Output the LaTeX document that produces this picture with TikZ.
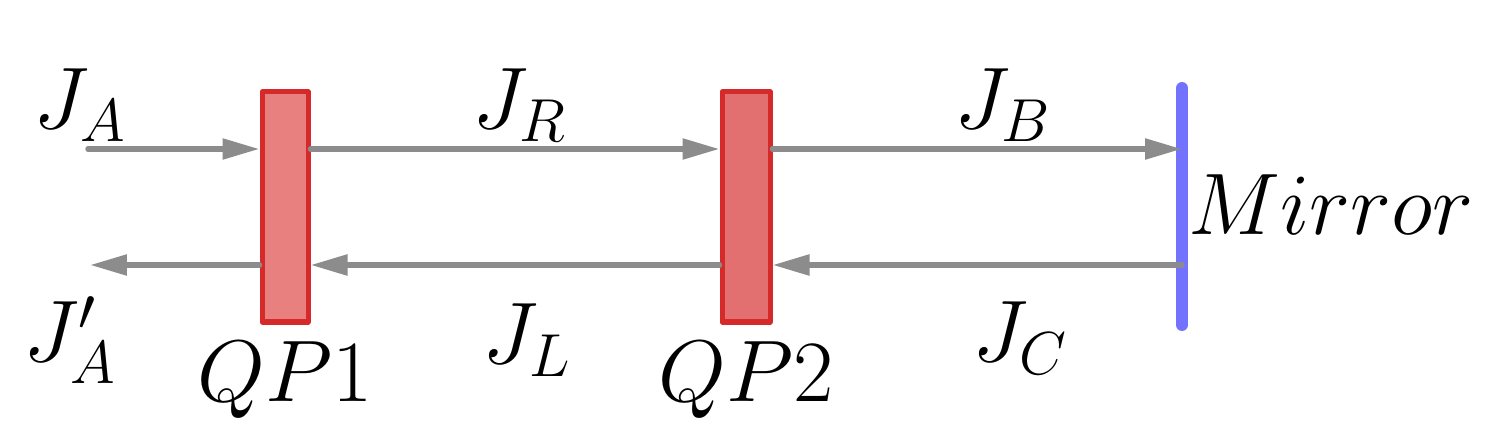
\documentclass[tikz,border=0pt]{standalone}
\usepackage{tikz}
\usetikzlibrary{arrows.meta}
\definecolor{beamgray}{HTML}{8C8C8C}
\definecolor{plateedge}{HTML}{D62A2A}
\definecolor{plateone}{HTML}{E88080}
\definecolor{platetwo}{HTML}{E27070}
\definecolor{mirrorblue}{HTML}{7272FF}
\tikzset{
  plate/.style={draw=plateedge, line width=0.05cm, inner sep=0pt, minimum height=2.30cm},
  beam/.style={->, color=beamgray, line width=0.055cm},
  lbl/.style={inner sep=0pt, font=\fontsize{23pt}{27pt}\selectfont}
}
\begin{document}
\begin{tikzpicture}[line cap=round,line join=round,>={Triangle[length=0.37cm,width=0.20cm]},x=1cm,y=1cm]
\useasboundingbox (0,0) rectangle (14.97,4.24);
% plates and mirror
\node [plate, fill=plateone, minimum width=0.46cm] (qp1) at (2.85,2.17) {};
\node [plate, fill=platetwo, minimum width=0.48cm] (qp2) at (7.46,2.17) {};
\coordinate (mtop) at (11.82,3.36);
\coordinate (mbot) at (11.82,0.99);
\draw [mirrorblue, line width=0.12cm] (mtop)--(mbot);
% beam ends
\coordinate (inA) at (0.88,2.75);
\coordinate (outA) at (0.90,1.59);
% forward beams
\draw [beam] (inA)--(qp1.west |- inA);
\draw [beam] (qp1.east |- inA)--(qp2.west |- inA);
\draw [beam] (qp2.east |- inA)--(mtop |- inA);
% backward beams
\draw [beam] (mtop |- outA)--(qp2.east |- outA);
\draw [beam] (qp2.west |- outA)--(qp1.east |- outA);
\draw [beam] (qp1.west |- outA)--(outA);
% labels
\node [lbl] (ja) at (0.80,3.19) {$J_A$};
\node [lbl] (jr) at (5.20,3.19) {$J_R$};
\node [lbl] (jb) at (10.03,3.19) {$J_B$};
\node [lbl] (mir) at (13.31,2.19) {$Mirror$};
\node [lbl] (jap) at (0.70,0.84) {$J'_A$};
\node [lbl] (jl) at (5.27,0.84) {$J_L$};
\node [lbl] (jc) at (10.20,0.86) {$J_C$};
\node [lbl] (qp1l) at (2.85,0.44) {$QP1$};
\node [lbl] (qp2l) at (7.46,0.44) {$QP2$};
\end{tikzpicture}
\end{document}
